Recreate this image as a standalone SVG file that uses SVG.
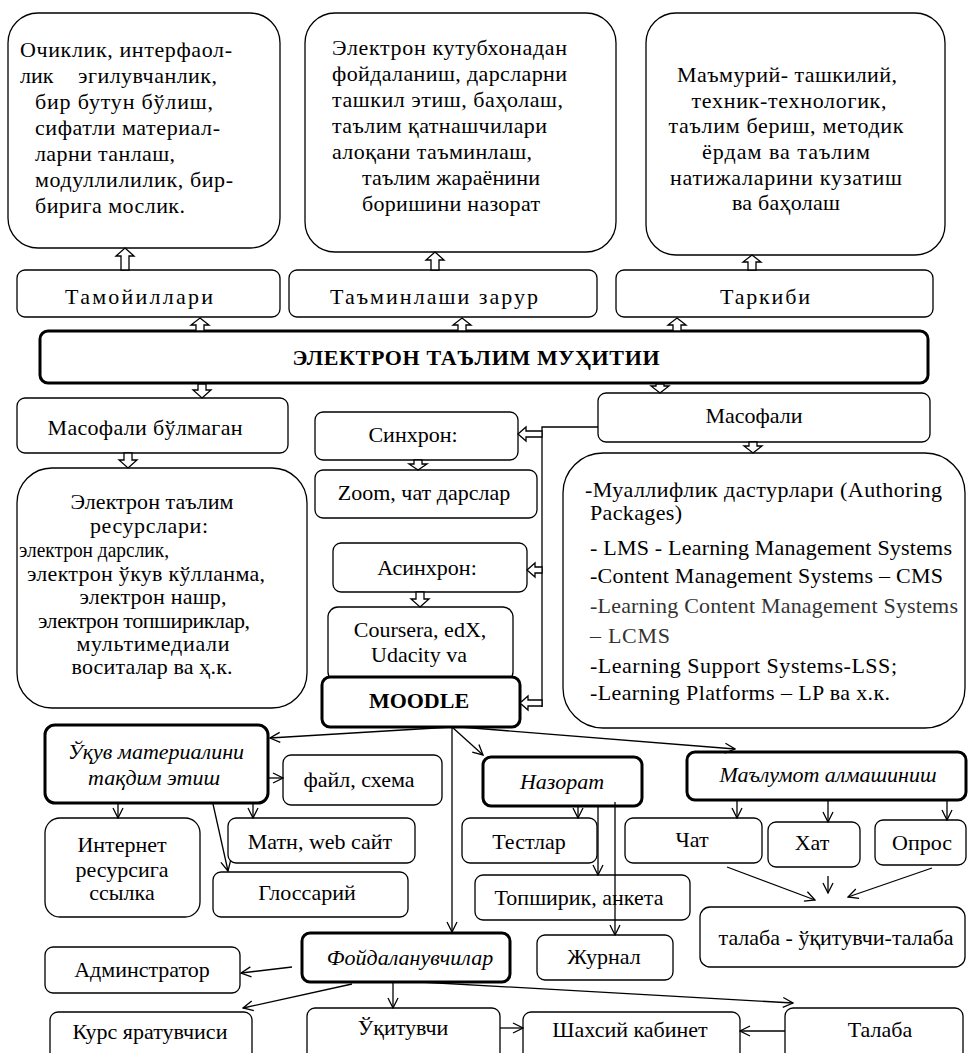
<svg xmlns="http://www.w3.org/2000/svg" width="970" height="1053" viewBox="0 0 970 1053">
<style>
.b{fill:#fff;stroke:#000;stroke-width:1.3}
.bb{fill:#fff;stroke:#000;stroke-width:3}
.t{font-family:"Liberation Serif","Times New Roman",serif;font-size:22px;fill:#000}
.c{text-anchor:middle}
.i{font-style:italic}
.w{font-weight:bold}
.g{fill:#333}
.ln{fill:none;stroke:#000;stroke-width:1.3}
.ar{fill:none;stroke:#000;stroke-width:1.3;marker-end:url(#v)}
.ba{fill:#fff;stroke:#000;stroke-width:1.3}
</style>
<defs>
<marker id="v" viewBox="0 0 12 12" refX="11" refY="6" markerWidth="12" markerHeight="12" markerUnits="userSpaceOnUse" orient="auto"><path d="M1,1 L11,6 L1,11" fill="none" stroke="#000" stroke-width="1.3"/></marker>
</defs>
<rect width="970" height="1053" fill="#fff"/>

<g id="n-principles-text">
<rect class="b" x="8" y="13" width="272" height="235" rx="30"/>
<text class="t" x="20" y="57" textLength="212" lengthAdjust="spacing">Очиклик, интерфаол-</text>
<text class="t" x="20" y="83">лик</text>
<text class="t" x="78" y="83" textLength="139" lengthAdjust="spacing">эгилувчанлик,</text>
<text class="t" x="35" y="109" textLength="178" lengthAdjust="spacing">бир бутун бўлиш,</text>
<text class="t" x="35" y="135" textLength="185" lengthAdjust="spacing">сифатли материал-</text>
<text class="t" x="35" y="161" textLength="140" lengthAdjust="spacing">ларни танлаш,</text>
<text class="t" x="35" y="187" textLength="198" lengthAdjust="spacing">модуллилилик, бир-</text>
<text class="t" x="35" y="213" textLength="150" lengthAdjust="spacing">бирига мослик.</text>
</g>
<g id="n-need-text">
<rect class="b" x="305" y="13" width="311" height="239" rx="30"/>
<text class="t" x="332" y="55" textLength="235" lengthAdjust="spacing">Электрон кутубхонадан</text>
<text class="t" x="332" y="81" textLength="235" lengthAdjust="spacing">фойдаланиш, дарсларни</text>
<text class="t" x="332" y="107" textLength="231" lengthAdjust="spacing">ташкил этиш, баҳолаш,</text>
<text class="t" x="332" y="133" textLength="215" lengthAdjust="spacing">таълим қатнашчилари</text>
<text class="t" x="332" y="159" textLength="200" lengthAdjust="spacing">алоқани таъминлаш,</text>
<text class="t" x="362" y="185" textLength="178" lengthAdjust="spacing">таълим жараёнини</text>
<text class="t" x="362" y="211" textLength="178" lengthAdjust="spacing">боришини назорат</text>
</g>
<g id="n-structure-text">
<rect class="b" x="646" y="13" width="299" height="242" rx="30"/>
<text class="t c" x="787" y="82" textLength="220" lengthAdjust="spacing">Маъмурий- ташкилий,</text>
<text class="t c" x="789" y="108" textLength="195" lengthAdjust="spacing">техник-технологик,</text>
<text class="t c" x="786" y="133" textLength="235" lengthAdjust="spacing">таълим бериш, методик</text>
<text class="t c" x="786" y="159" textLength="168" lengthAdjust="spacing">ёрдам ва таълим</text>
<text class="t c" x="786" y="185" textLength="232" lengthAdjust="spacing">натижаларини кузатиш</text>
<text class="t c" x="786" y="210" textLength="108" lengthAdjust="spacing">ва баҳолаш</text>
</g>

<g id="n-principles">
<rect class="b" x="17" y="270" width="263" height="47" rx="8"/>
<text class="t c" x="139" y="304" textLength="148" lengthAdjust="spacing">Тамойиллари</text>
</g>
<g id="n-need">
<rect class="b" x="289" y="270" width="308" height="47" rx="8"/>
<text class="t c" x="434" y="304" textLength="208" lengthAdjust="spacing">Таъминлаши зарур</text>
</g>
<g id="n-structure">
<rect class="b" x="616" y="270" width="317" height="47" rx="8"/>
<text class="t c" x="765" y="304" textLength="90" lengthAdjust="spacing">Таркиби</text>
</g>
<g id="n-main">
<rect class="bb" x="40" y="331" width="888" height="52" rx="8"/>
<text class="t c w" x="476" y="365" textLength="367" lengthAdjust="spacing">ЭЛЕКТРОН ТАЪЛИМ МУҲИТИИ</text>
</g>

<g id="n-nondistance">
<rect class="b" x="17" y="398" width="271" height="55" rx="8"/>
<text class="t c" x="145" y="435" textLength="195" lengthAdjust="spacing">Масофали бўлмаган</text>
</g>
<g id="n-resources">
<rect class="b" x="17" y="468" width="290" height="240" rx="35"/>
<text class="t c" x="152" y="509" textLength="163" lengthAdjust="spacing">Электрон таълим</text>
<text class="t c" x="149" y="533" textLength="118" lengthAdjust="spacing">ресурслари:</text>
<text class="t" x="19" y="557" textLength="150" lengthAdjust="spacingAndGlyphs">электрон дарслик,</text>
<text class="t c" x="146" y="581" textLength="238" lengthAdjust="spacing">электрон ўкув кўлланма,</text>
<text class="t c" x="153" y="604" textLength="147" lengthAdjust="spacing">электрон нашр,</text>
<text class="t c" x="144" y="628" textLength="212" lengthAdjust="spacing">электрон топшириклар,</text>
<text class="t c" x="153" y="651" textLength="153" lengthAdjust="spacing">мультимедиали</text>
<text class="t c" x="152" y="674" textLength="161" lengthAdjust="spacing">воситалар ва ҳ.к.</text>
</g>

<g id="n-sync">
<rect class="b" x="315" y="412" width="203" height="48" rx="8"/>
<text class="t c" x="413" y="442">Синхрон:</text>
</g>
<g id="n-zoom">
<rect class="b" x="315" y="470" width="222" height="48" rx="8"/>
<text class="t c" x="424" y="500">Zoom, чат дарслар</text>
</g>
<g id="n-async">
<rect class="b" x="333" y="543" width="194" height="49" rx="8"/>
<text class="t c" x="427" y="575">Асинхрон:</text>
</g>
<g id="n-coursera">
<rect class="b" x="328" y="607" width="185" height="75" rx="10"/>
<text class="t c" x="420" y="637">Coursera, edX,</text>
<text class="t c" x="419" y="662">Udacity va</text>
</g>
<g id="n-moodle">
<rect class="bb" x="322" y="677" width="198" height="50" rx="8"/>
<text class="t c w" x="419" y="708">MOODLE</text>
</g>

<g id="n-distance">
<rect class="b" x="598" y="393" width="332" height="49" rx="8"/>
<text class="t c" x="754" y="423">Масофали</text>
</g>
<g id="n-systems">
<rect class="b" x="563" y="453" width="402" height="275" rx="40"/>
<text class="t" x="585" y="497" textLength="357" lengthAdjust="spacing">-Муаллифлик дастурлари (Authoring</text>
<text class="t" x="590" y="520" textLength="92" lengthAdjust="spacing">Packages)</text>
<text class="t" x="590" y="555" textLength="362" lengthAdjust="spacing">- LMS - Learning Management Systems</text>
<text class="t" x="590" y="583" textLength="353" lengthAdjust="spacing">-Content Management Systems – CMS</text>
<text class="t g" x="590" y="613" textLength="368" lengthAdjust="spacing">-Learning Content Management Systems</text>
<text class="t g" x="590" y="643" textLength="80" lengthAdjust="spacing">– LCMS</text>
<text class="t" x="590" y="673" textLength="307" lengthAdjust="spacing">-Learning Support Systems-LSS;</text>
<text class="t" x="590" y="700" textLength="300" lengthAdjust="spacing">-Learning Platforms – LP ва х.к.</text>
</g>

<g id="n-material">
<rect class="bb" x="45" y="725" width="223" height="78" rx="10"/>
<text class="t c i" x="156" y="759">Ўқув материалини</text>
<text class="t c i" x="154" y="785">тақдим этиш</text>
</g>
<g id="n-file">
<rect class="b" x="283" y="755" width="159" height="50" rx="8"/>
<text class="t c" x="359" y="787">файл, схема</text>
</g>
<g id="n-internet">
<rect class="b" x="45" y="818" width="155" height="99" rx="15"/>
<text class="t c" x="122" y="852">Интернет</text>
<text class="t c" x="122" y="877">ресурсига</text>
<text class="t c" x="122" y="900">ссылка</text>
</g>
<g id="n-text">
<rect class="b" x="228" y="818" width="187" height="45" rx="8"/>
<text class="t c" x="320" y="849">Матн, web сайт</text>
</g>
<g id="n-glossary">
<rect class="b" x="213" y="872" width="195" height="45" rx="8"/>
<text class="t c" x="307" y="900">Глоссарий</text>
</g>

<g id="n-control">
<rect class="bb" x="483" y="757" width="159" height="49" rx="8"/>
<text class="t c i" x="562" y="789">Назорат</text>
</g>
<g id="n-tests">
<rect class="b" x="462" y="818" width="135" height="45" rx="8"/>
<text class="t c" x="529" y="849">Тестлар</text>
</g>
<g id="n-tasks">
<rect class="b" x="475" y="875" width="215" height="45" rx="8"/>
<text class="t c" x="579" y="905">Топширик, анкета</text>
</g>
<g id="n-journal">
<rect class="b" x="537" y="935" width="136" height="45" rx="8"/>
<text class="t c" x="604" y="964">Журнал</text>
</g>

<g id="n-exchange">
<rect class="bb" x="687" y="752" width="279" height="48" rx="8"/>
<text class="t c i" x="828" y="782">Маълумот алмашиниш</text>
</g>
<g id="n-chat">
<rect class="b" x="625" y="818" width="137" height="45" rx="8"/>
<text class="t c" x="692" y="847">Чат</text>
</g>
<g id="n-letter">
<rect class="b" x="768" y="822" width="92" height="45" rx="8"/>
<text class="t c" x="812" y="850">Хат</text>
</g>
<g id="n-survey">
<rect class="b" x="875" y="820" width="91" height="45" rx="8"/>
<text class="t c" x="922" y="850">Опрос</text>
</g>
<g id="n-sts">
<rect class="b" x="700" y="907" width="265" height="60" rx="10"/>
<text class="t c" x="836" y="945">талаба - ўқитувчи-талаба</text>
</g>

<g id="n-users">
<rect class="bb" x="302" y="933" width="208" height="49" rx="8"/>
<text class="t c i" x="410" y="965">Фойдаланувчилар</text>
</g>
<g id="n-admin">
<rect class="b" x="45" y="947" width="195" height="46" rx="8"/>
<text class="t c" x="142" y="977">Админстратор</text>
</g>
<g id="n-creator">
<rect class="b" x="50" y="1012" width="202" height="60" rx="8"/>
<text class="t c" x="150" y="1039">Курс яратувчиси</text>
</g>
<g id="n-teacher">
<rect class="b" x="307" y="1008" width="193" height="60" rx="8"/>
<text class="t c" x="403" y="1035">Ўқитувчи</text>
</g>
<g id="n-cabinet">
<rect class="b" x="523" y="1012" width="217" height="60" rx="8"/>
<text class="t c" x="630" y="1037">Шахсий кабинет</text>
</g>
<g id="n-student">
<rect class="b" x="785" y="1008" width="178" height="60" rx="8"/>
<text class="t c" x="880" y="1037">Талаба</text>
</g>

<g id="connectors">
<polygon class="ba" points="125,248 134,256 129,256 129,270 121,270 121,256 116,256"/>
<polygon class="ba" points="435,252 444,260 439,260 439,270 431,270 431,260 426,260"/>
<polygon class="ba" points="752,255 761,262 756,262 756,270 748,270 748,262 743,262"/>
<polygon class="ba" points="200,318 209,325 204,325 204,331 196,331 196,325 191,325"/>
<polygon class="ba" points="462,318 471,325 466,325 466,331 458,331 458,325 453,325"/>
<polygon class="ba" points="677,318 686,325 681,325 681,331 673,331 673,325 668,325"/>
<polygon class="ba" points="202,398 211,390 206,390 206,384 198,384 198,390 193,390"/>
<polygon class="ba" points="660,393 669,386 664,386 664,384 656,384 656,386 651,386"/>
<polygon class="ba" points="128,468 137,460 132,460 132,453 124,453 124,460 119,460"/>
<polygon class="ba" points="753,453 762,446 757,446 757,442 749,442 749,446 744,446"/>
<polygon class="ba" points="418,470 427,464 422,464 422,460 414,460 414,464 409,464"/>
<polygon class="ba" points="420,607 429,599 424,599 424,592 416,592 416,599 411,599"/>
<path class="ln" d="M598,427 H542 V707"/>
<polygon class="ba" points="518,434 526,427 526,431 542,431 542,437 526,437 526,441"/>
<polygon class="ba" points="527,570 535,563 535,567 542,567 542,573 535,573 535,577"/>
<polygon class="ba" points="520,703 528,696 528,700 542,700 542,706 528,706 528,710"/>
<path class="ar" d="M452,727 L270,738"/>
<path class="ar" d="M452,727 V932"/>
<path class="ar" d="M452,727 L483,755"/>
<path class="ar" d="M460,727 L735,749"/>
<path class="ar" d="M268,778 H283"/>
<path class="ar" d="M118,803 V818"/>
<path class="ar" d="M253,803 V818"/>
<path class="ar" d="M213,804 L228,871"/>
<path class="ar" d="M578,806 V818"/>
<path class="ar" d="M598,806 V875"/>
<path class="ar" d="M615,802 V935"/>
<path class="ar" d="M737,800 V818"/>
<path class="ar" d="M828,800 V822"/>
<path class="ar" d="M947,800 V820"/>
<path class="ar" d="M727,867 L815,900"/>
<path class="ar" d="M828,876 V893"/>
<path class="ar" d="M932,868 L848,897"/>
<path class="ar" d="M292,967 L241,973"/>
<path class="ar" d="M352,984 L243,1008"/>
<path class="ar" d="M393,982 V1008"/>
<path class="ar" d="M420,982 L793,1003"/>
<path class="ar" d="M500,1028 H523"/>
<path class="ar" d="M785,1031 H740"/>
</g>
</svg>
